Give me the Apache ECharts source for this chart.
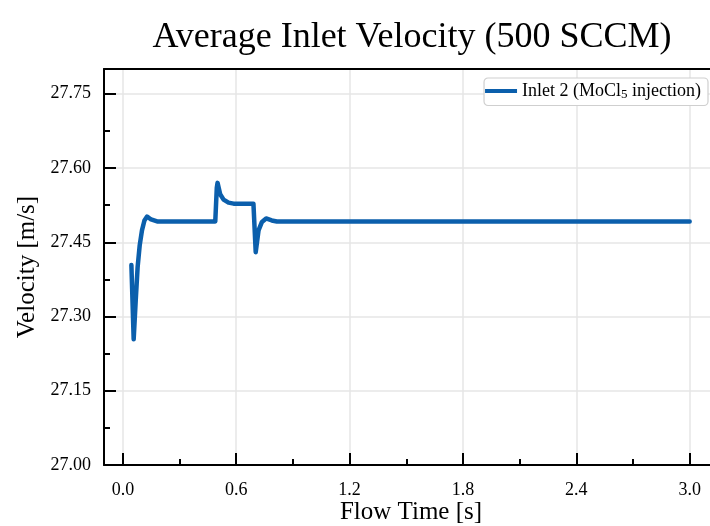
<!DOCTYPE html>
<html>
<head>
<meta charset="utf-8">
<script src="https://cdn.jsdelivr.net/npm/echarts@6/dist/echarts.min.js"></script>
<style>
  html, body { margin: 0; padding: 0; background: #fff; }
  #chart { width: 710px; height: 526px; }
</style>
</head>
<body>
<div id="chart"></div>
<script>
// Flow time [s] and area-averaged velocity at inlet 2 [m/s]
const flowTime = [
  0.045, 0.057, 0.068, 0.078, 0.089, 0.101, 0.114, 0.128, 0.149, 0.181,
  0.25, 0.35, 0.45, 0.489,
  0.497, 0.501, 0.515, 0.533, 0.559, 0.586, 0.65, 0.691,
  0.703, 0.718, 0.736, 0.758, 0.788, 0.815,
  1.0, 1.5, 2.0, 2.5, 3.0
];
const velocity = [
  27.404, 27.254, 27.333, 27.400, 27.444, 27.474, 27.494, 27.502, 27.496, 27.492,
  27.492, 27.492, 27.492, 27.492,
  27.560, 27.570, 27.547, 27.536, 27.530, 27.528, 27.528, 27.528,
  27.430, 27.474, 27.491, 27.498, 27.494, 27.492,
  27.492, 27.492, 27.492, 27.492, 27.492
];

// Axis ticks
const xMajorTicks = [0.0, 0.6, 1.2, 1.8, 2.4, 3.0];
const xMinorTicks = [0.3, 0.9, 1.5, 2.1, 2.7];

const seriesName = 'Inlet 2 (MoCl5 injection)';
const serif = 'Liberation Serif, Times New Roman, serif';
const lineColor = '#0b5fac';

const chart = echarts.init(document.getElementById('chart'), null, { renderer: 'canvas' });

const xBase = {
  type: 'value',
  gridIndex: 0,
  min: -0.1,
  max: 3.15,
  position: 'bottom'
};

chart.setOption({
  animation: false,
  backgroundColor: '#fff',
  title: {
    text: 'Average Inlet Velocity (500 SCCM)',
    left: 407,
    textAlign: 'center',
    top: 15,
    textStyle: { fontFamily: serif, fontSize: 36, fontWeight: 'normal', color: '#000' }
  },
  grid: {
    left: 104, right: -8, top: 69, bottom: 61,
    outerBoundsMode: 'none',
    containLabel: false,
    show: false
  },
  legend: {
    right: 2, top: 78,
    orient: 'vertical',
    backgroundColor: '#fff',
    borderColor: '#cfcfcf', borderWidth: 1.2, borderRadius: 4,
    padding: [4, 7, 4, 1],
    itemWidth: 32, itemHeight: 4, itemGap: 5,
    icon: 'rect',
    formatter: () => 'Inlet 2 (MoCl{sub|5} injection)',
    textStyle: {
      fontFamily: serif, fontSize: 18, color: '#000',
      rich: { sub: { fontFamily: serif, fontSize: 13, color: '#000', padding: [8, 0, 0, 0] } }
    },
    data: [seriesName]
  },
  xAxis: [
    Object.assign({}, xBase, {
      name: 'Flow Time [s]',
      nameLocation: 'middle',
      nameGap: 35,
      nameMoveOverlap: false,
      nameTextStyle: { fontFamily: serif, fontSize: 25, color: '#000' },
      axisLine: { show: true, onZero: false, lineStyle: { color: '#000', width: 2 } },
      axisTick: { show: true, inside: true, length: 12, customValues: xMajorTicks, lineStyle: { color: '#000', width: 2 } },
      axisLabel: {
        show: true, margin: 16, customValues: xMajorTicks,
        formatter: v => v.toFixed(1),
        fontFamily: serif, fontSize: 18, color: '#000'
      },
      splitLine: { show: true, lineStyle: { color: '#e6e6e6', width: 1.5 } }
    }),
    Object.assign({}, xBase, {
      axisLine: { show: false, onZero: false },
      axisTick: { show: true, inside: true, length: 6, customValues: xMinorTicks, lineStyle: { color: '#000', width: 2 } },
      axisLabel: { show: false },
      splitLine: { show: false }
    }),
    // frame line along the top of the plot
    Object.assign({}, xBase, {
      position: 'top',
      axisLine: { show: true, onZero: false, lineStyle: { color: '#000', width: 2 } },
      axisTick: { show: false },
      axisLabel: { show: false },
      splitLine: { show: false }
    })
  ],
  yAxis: {
    type: 'value',
    min: 27.0, max: 27.8, interval: 0.15,
    position: 'left',
    name: 'Velocity [m/s]',
    nameLocation: 'middle',
    nameGap: 64,
    nameMoveOverlap: false,
    nameTextStyle: { fontFamily: serif, fontSize: 25, color: '#000' },
    axisLine: { show: true, onZero: false, lineStyle: { color: '#000', width: 2 } },
    axisTick: { show: true, inside: true, length: 12, lineStyle: { color: '#000', width: 2 } },
    minorTick: { show: true, splitNumber: 2, length: 6, lineStyle: { color: '#000', width: 2 } },
    axisLabel: {
      margin: 13,
      formatter: v => v.toFixed(2),
      fontFamily: serif, fontSize: 18, color: '#000',
      showMaxLabel: false
    },
    splitLine: { show: true, lineStyle: { color: '#e6e6e6', width: 1.5 } }
  },
  series: [{
    name: seriesName,
    type: 'line',
    xAxisIndex: 0,
    showSymbol: false,
    symbol: 'none',
    color: lineColor,
    lineStyle: { color: lineColor, width: 4.5, cap: 'round', join: 'round' },
    data: flowTime.map((t, i) => [t, velocity[i]])
  }]
});
</script>
</body>
</html>
